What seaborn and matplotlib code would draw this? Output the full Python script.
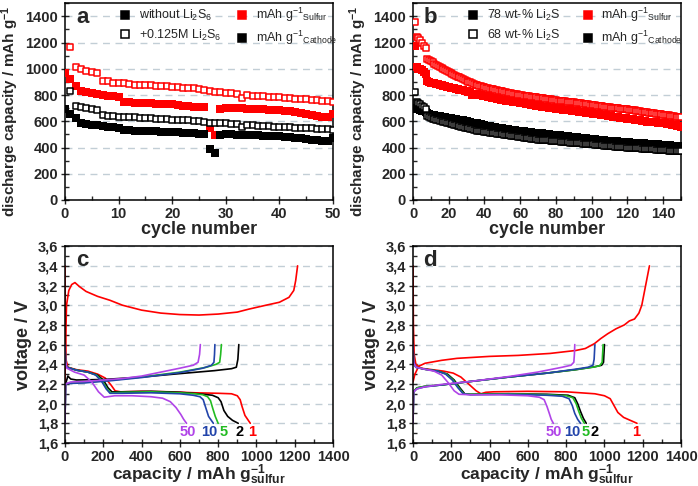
import matplotlib
matplotlib.use('Agg')
import matplotlib.pyplot as plt
import seaborn as sns
import pandas as pd
from matplotlib.lines import Line2D
from matplotlib.ticker import MultipleLocator, AutoMinorLocator, FuncFormatter

sns.set_style('ticks')
plt.rcParams['font.family'] = ['Liberation Sans', 'DejaVu Sans']
plt.rcParams['mathtext.fontset'] = 'custom'
plt.rcParams['mathtext.rm'] = 'Liberation Sans'
plt.rcParams['mathtext.bf'] = 'Liberation Sans:bold'
plt.rcParams['mathtext.it'] = 'Liberation Sans:italic'

# ---- panel a : cycling, without / with Li2S6 ----
cyc_a_without = list(range(0, 51))
a_sulfur_without = [970, 920, 870, 830, 820, 815, 810, 800, 795, 790,
                    785, 745, 745, 742, 740, 740, 738, 735, 732, 730,
                    728, 725, 720, 715, 712, 710, 705, 545, 495, 690,
                    700, 702, 700, 698, 697, 695, 692, 690, 688, 685,
                    682, 680, 675, 670, 665, 655, 645, 640, 635, 630, 655]
a_cathode_without = [690, 655, 625, 590, 580, 575, 570, 565, 560, 555,
                     550, 530, 530, 528, 527, 525, 525, 522, 520, 518,
                     517, 515, 513, 510, 508, 505, 502, 385, 355, 495,
                     500, 500, 498, 497, 495, 493, 492, 490, 488, 486,
                     484, 482, 478, 475, 470, 465, 460, 455, 452, 450, 470]
cyc_a_with = list(range(1, 51))
a_sulfur_with = [1165, 1010, 995, 985, 975, 965, 910, 905, 895, 895,
                 890, 885, 880, 878, 875, 875, 870, 868, 865, 860,
                 858, 855, 853, 850, 845, 835, 830, 825, 820, 815,
                 812, 810, 780, 800, 795, 792, 790, 788, 785, 782,
                 780, 775, 772, 770, 770, 765, 760, 758, 752, 745]
a_cathode_with = [830, 715, 705, 698, 690, 685, 645, 642, 638, 635,
                  633, 632, 630, 628, 625, 623, 620, 618, 615, 612,
                  610, 608, 606, 604, 600, 593, 590, 588, 585, 583,
                  580, 578, 560, 570, 568, 566, 564, 562, 560, 558,
                  556, 553, 551, 549, 548, 546, 544, 542, 539, 535]

# ---- panel b : cycling, 78 / 68 wt-% Li2S ----
cyc_b = list(range(1, 151))
b_sulfur_78 = [1170, 1010, 1000, 995, 990, 975, 960, 905, 900, 895,
               892, 890, 887, 884, 880, 876, 872, 868, 864, 860,
               857, 854, 851, 848, 845, 842, 839, 836, 833, 830,
               826, 822, 800, 805, 808, 806, 803, 800, 796, 792,
               789, 786, 783, 780, 777, 774, 771, 768, 765, 762,
               760, 758, 756, 754, 752, 750, 748, 746, 744, 741,
               738, 736, 734, 731, 729, 726, 723, 721, 718, 716,
               714, 712, 710, 708, 706, 704, 702, 700, 698, 696,
               694, 692, 691, 689, 687, 686, 684, 683, 681, 680,
               678, 676, 674, 672, 670, 668, 666, 664, 662, 660,
               658, 656, 654, 652, 650, 648, 646, 644, 642, 640,
               638, 636, 634, 632, 630, 628, 626, 624, 622, 620,
               618, 616, 614, 612, 610, 608, 606, 604, 602, 600,
               598, 597, 595, 594, 592, 591, 589, 588, 586, 585,
               583, 581, 579, 577, 575, 573, 570, 567, 564, 560]
b_cathode_78 = [700, 695, 690, 685, 680, 676, 672, 660, 655, 650,
                648, 645, 642, 640, 637, 635, 632, 630, 628, 625,
                623, 620, 618, 615, 613, 611, 608, 606, 603, 600,
                597, 594, 580, 585, 587, 584, 581, 578, 574, 570,
                567, 565, 562, 560, 557, 555, 552, 550, 547, 545,
                543, 541, 539, 537, 535, 533, 531, 529, 527, 525,
                523, 522, 520, 519, 517, 516, 514, 513, 511, 510,
                508, 507, 505, 504, 502, 501, 499, 498, 496, 495,
                493, 492, 490, 489, 487, 486, 484, 483, 481, 480,
                478, 477, 475, 474, 472, 471, 469, 468, 466, 465,
                463, 462, 460, 459, 457, 456, 454, 453, 451, 450,
                449, 448, 447, 446, 445, 444, 443, 442, 441, 440,
                439, 438, 437, 436, 435, 434, 433, 432, 431, 430,
                429, 428, 427, 426, 425, 424, 423, 422, 421, 420,
                419, 418, 417, 416, 415, 414, 413, 412, 411, 410]
b_sulfur_68 = [1360, 1240, 1235, 1220, 1200, 1170, 1160, 1075, 1068, 1060,
               1050, 1040, 1030, 1022, 1012, 1005, 998, 990, 982, 975,
               968, 960, 952, 946, 940, 934, 928, 920, 914, 908,
               902, 896, 890, 884, 878, 874, 870, 866, 862, 858,
               855, 852, 849, 846, 843, 840, 837, 834, 831, 828,
               825, 822, 819, 816, 813, 810, 808, 805, 802, 800,
               798, 796, 794, 792, 790, 788, 786, 784, 782, 780,
               778, 776, 774, 772, 770, 768, 766, 764, 762, 760,
               758, 756, 755, 753, 752, 750, 749, 747, 746, 744,
               742, 740, 739, 737, 735, 733, 731, 729, 727, 725,
               723, 721, 719, 718, 716, 714, 712, 710, 708, 706,
               704, 703, 701, 700, 698, 697, 695, 694, 692, 690,
               688, 686, 684, 682, 680, 678, 676, 674, 672, 670,
               668, 666, 664, 662, 660, 658, 656, 654, 652, 650,
               648, 646, 644, 642, 640, 638, 636, 634, 632, 630]
b_cathode_68 = [820, 745, 740, 735, 720, 705, 695, 640, 632, 625,
                620, 615, 611, 607, 603, 599, 595, 591, 587, 583,
                580, 577, 574, 570, 567, 563, 560, 556, 552, 548,
                545, 542, 538, 534, 531, 528, 526, 524, 522, 520,
                518, 516, 514, 512, 510, 508, 506, 504, 502, 500,
                498, 496, 494, 492, 490, 488, 486, 484, 482, 480,
                478, 476, 474, 472, 470, 468, 466, 464, 462, 460,
                459, 458, 457, 456, 455, 454, 453, 452, 451, 450,
                448, 447, 445, 444, 442, 441, 439, 438, 436, 435,
                434, 433, 432, 431, 430, 429, 428, 427, 426, 425,
                423, 422, 420, 419, 417, 416, 414, 413, 411, 410,
                409, 408, 407, 406, 405, 404, 403, 402, 401, 400,
                399, 398, 397, 396, 395, 394, 393, 392, 391, 390,
                389, 388, 387, 386, 385, 384, 383, 382, 381, 380,
                379, 378, 377, 376, 375, 374, 373, 372, 371, 370]

# ---- panel c : voltage profiles (capacity mAh/g, voltage V) ----
c_dis_1 = [(0, 3.4), (2, 2.8), (5, 2.45), (15, 2.37), (60, 2.345), (120, 2.33),
           (170, 2.30), (210, 2.26), (240, 2.19), (262, 2.13), (290, 2.12),
           (400, 2.125), (550, 2.12), (680, 2.11), (800, 2.105), (870, 2.1),
           (900, 2.08), (915, 2.04), (925, 1.97), (940, 1.88), (968, 1.8)]
c_chg_1 = [(0, 2.2), (3, 2.6), (8, 3.0), (20, 3.15), (35, 3.21), (52, 3.23),
           (75, 3.19), (110, 3.14), (170, 3.09), (235, 3.05), (300, 3.0),
           (400, 2.95), (500, 2.92), (600, 2.905), (700, 2.90), (800, 2.91),
           (900, 2.93), (960, 2.96), (1050, 3.0), (1120, 3.03), (1170, 3.08),
           (1195, 3.15), (1205, 3.25), (1215, 3.4)]
c_dis_2 = [(0, 2.6), (3, 2.42), (10, 2.37), (60, 2.34), (120, 2.32), (170, 2.29),
           (200, 2.24), (225, 2.16), (245, 2.12), (300, 2.12), (450, 2.125),
           (600, 2.115), (700, 2.10), (770, 2.085), (800, 2.06), (815, 2.02),
           (830, 1.93), (850, 1.87), (875, 1.83), (905, 1.8)]
c_chg_2 = [(0, 1.8), (3, 2.2), (15, 2.28), (30, 2.25), (60, 2.24), (200, 2.245),
           (400, 2.27), (600, 2.305), (780, 2.335), (870, 2.355), (895, 2.37),
           (903, 2.45), (908, 2.6)]
c_dis_5 = [(0, 2.6), (3, 2.42), (10, 2.37), (60, 2.34), (120, 2.32), (165, 2.29),
           (195, 2.23), (220, 2.15), (240, 2.11), (300, 2.115), (450, 2.12),
           (600, 2.11), (680, 2.1), (720, 2.09), (745, 2.07), (760, 2.03),
           (772, 1.95), (785, 1.87), (800, 1.8)]
c_chg_5 = [(0, 1.8), (3, 2.2), (20, 2.21), (100, 2.215), (250, 2.24), (400, 2.27),
           (600, 2.32), (740, 2.37), (790, 2.40), (808, 2.42), (813, 2.5), (817, 2.6)]
c_dis_10 = [(0, 2.6), (3, 2.42), (10, 2.37), (60, 2.34), (120, 2.32), (160, 2.29),
            (190, 2.23), (215, 2.15), (235, 2.105), (300, 2.105), (450, 2.11),
            (600, 2.10), (670, 2.085), (705, 2.07), (722, 2.04), (735, 1.96),
            (750, 1.87), (775, 1.8)]
c_chg_10 = [(0, 1.8), (3, 2.2), (20, 2.205), (100, 2.21), (250, 2.235), (400, 2.265),
            (600, 2.315), (720, 2.36), (765, 2.39), (778, 2.42), (781, 2.5), (783, 2.6)]
c_dis_50 = [(0, 2.6), (3, 2.42), (10, 2.36), (50, 2.32), (100, 2.29), (140, 2.22),
            (175, 2.12), (205, 2.065), (260, 2.08), (350, 2.08), (450, 2.07),
            (510, 2.055), (550, 2.02), (580, 1.96), (605, 1.89), (620, 1.84), (635, 1.8)]
c_chg_50 = [(0, 1.8), (3, 2.2), (30, 2.22), (100, 2.225), (200, 2.24), (300, 2.255),
            (400, 2.28), (500, 2.32), (600, 2.36), (670, 2.39), (695, 2.42),
            (703, 2.5), (707, 2.6)]

# ---- panel d : voltage profiles ----
d_dis_1 = [(0, 3.4), (2, 2.8), (6, 2.5), (15, 2.4), (40, 2.36), (100, 2.345),
           (160, 2.33), (210, 2.31), (250, 2.27), (290, 2.2), (330, 2.13),
           (355, 2.1), (380, 2.115), (420, 2.12), (600, 2.125), (800, 2.12),
           (950, 2.1), (1000, 2.08), (1030, 2.05), (1050, 1.98), (1070, 1.91),
           (1100, 1.86), (1170, 1.8)]
d_chg_1 = [(0, 2.22), (10, 2.3), (30, 2.38), (63, 2.41), (150, 2.44), (230, 2.46),
           (400, 2.48), (550, 2.49), (716, 2.51), (850, 2.54), (900, 2.56),
           (948, 2.61), (980, 2.66), (1017, 2.71), (1060, 2.76), (1104, 2.8),
           (1130, 2.84), (1157, 2.86), (1180, 2.92), (1195, 3.0), (1210, 3.15),
           (1225, 3.3), (1235, 3.4)]
d_dis_2 = [(0, 2.6), (3, 2.42), (15, 2.37), (60, 2.35), (130, 2.33), (180, 2.3),
           (215, 2.24), (245, 2.16), (270, 2.1), (300, 2.095), (500, 2.1),
           (700, 2.095), (810, 2.085), (845, 2.06), (860, 2.0), (875, 1.92),
           (890, 1.85), (905, 1.8)]
d_chg_2 = [(0, 1.8), (3, 2.12), (20, 2.16), (60, 2.175), (150, 2.19), (300, 2.225),
           (500, 2.27), (700, 2.31), (850, 2.345), (950, 2.375), (985, 2.39),
           (995, 2.42), (1000, 2.6)]
d_dis_5 = [(0, 2.6), (3, 2.42), (15, 2.37), (60, 2.35), (130, 2.33), (175, 2.3),
           (210, 2.24), (240, 2.16), (265, 2.1), (300, 2.095), (500, 2.1),
           (700, 2.09), (800, 2.08), (835, 2.06), (852, 2.0), (866, 1.92),
           (880, 1.85), (895, 1.8)]
d_chg_5 = [(0, 1.8), (3, 2.12), (20, 2.16), (60, 2.175), (150, 2.19), (300, 2.225),
           (500, 2.27), (700, 2.31), (850, 2.345), (940, 2.37), (975, 2.385),
           (988, 2.42), (993, 2.6)]
d_dis_10 = [(0, 2.6), (3, 2.42), (15, 2.37), (60, 2.35), (130, 2.33), (170, 2.3),
            (205, 2.24), (235, 2.16), (262, 2.1), (300, 2.09), (500, 2.095),
            (700, 2.085), (780, 2.075), (815, 2.05), (832, 1.98), (845, 1.9),
            (860, 1.84), (875, 1.8)]
d_chg_10 = [(0, 1.8), (3, 2.12), (20, 2.15), (60, 2.17), (150, 2.19), (300, 2.225),
            (500, 2.27), (700, 2.31), (850, 2.35), (915, 2.37), (940, 2.39),
            (946, 2.45), (950, 2.6)]
d_dis_50 = [(0, 2.6), (3, 2.42), (15, 2.37), (60, 2.35), (110, 2.33), (150, 2.29),
            (185, 2.21), (215, 2.13), (240, 2.095), (300, 2.09), (450, 2.09),
            (600, 2.08), (660, 2.065), (685, 2.04), (700, 1.97), (712, 1.9),
            (722, 1.84), (733, 1.8)]
d_chg_50 = [(0, 1.8), (3, 2.12), (20, 2.15), (60, 2.17), (150, 2.195), (300, 2.225),
            (500, 2.275), (650, 2.32), (780, 2.37), (825, 2.39), (840, 2.42),
            (843, 2.5), (845, 2.6)]

cycle_names = ['1', '2', '5', '10', '50']
cycle_colors = ['#ff0000', '#000000', '#22bb22', '#2244aa', '#b044e8']
c_curves = [(c_dis_1, c_chg_1), (c_dis_2, c_chg_2), (c_dis_5, c_chg_5),
            (c_dis_10, c_chg_10), (c_dis_50, c_chg_50)]
d_curves = [(d_dis_1, d_chg_1), (d_dis_2, d_chg_2), (d_dis_5, d_chg_5),
            (d_dis_10, d_chg_10), (d_dis_50, d_chg_50)]
# label anchor capacities along the 1.71 V line
c_label_x = [975, 912, 830, 755, 640]
d_label_x = [1165, 948, 902, 830, 735]

GRID = '#c2ced6'

fig = plt.figure(figsize=(6.98, 4.86), dpi=100)
ax_a = fig.add_axes([0.0931, 0.5885, 0.384, 0.405])
ax_b = fig.add_axes([0.5917, 0.5885, 0.384, 0.405])
ax_c = fig.add_axes([0.0931, 0.0885, 0.384, 0.405])
ax_d = fig.add_axes([0.5917, 0.0885, 0.384, 0.405])


def style_axes(ax, letter):
    for sp in ax.spines.values():
        sp.set_visible(True)
        sp.set_linewidth(1.1)
        sp.set_color('black')
    ax.yaxis.grid(True, linestyle=(0, (5, 4)), color=GRID, lw=1)
    ax.set_axisbelow(True)
    ax.xaxis.set_minor_locator(AutoMinorLocator(2))
    ax.yaxis.set_minor_locator(AutoMinorLocator(2))
    ax.tick_params(which='major', direction='inout', length=6, width=1,
                   labelsize=10.5, pad=2, top=False, right=False)
    ax.tick_params(which='minor', direction='in', length=3, width=1,
                   top=False, right=False)
    for t in ax.get_xticklabels() + ax.get_yticklabels():
        t.set_fontweight('bold')
    ax.text(0.065, 0.925, letter, transform=ax.transAxes, fontsize=16,
            fontweight='bold', ha='center', va='center')


def squares(ax, x, y, color, filled):
    if filled:
        sns.scatterplot(x=x, y=y, ax=ax, marker='s', s=28, color=color,
                        edgecolor=color, linewidth=0, zorder=3)
    else:
        sns.scatterplot(x=x, y=y, ax=ax, marker='s', s=24, color='white',
                        edgecolor=color, linewidth=1.1, zorder=3)


def curve(ax, pts, color):
    df = pd.DataFrame(pts, columns=['cap', 'V'])
    sns.lineplot(data=df, x='cap', y='V', ax=ax, sort=False, estimator=None,
                 color=color, lw=1.2)


# panel a
squares(ax_a, cyc_a_without, a_sulfur_without, 'red', True)
squares(ax_a, cyc_a_with, a_sulfur_with, 'red', False)
squares(ax_a, cyc_a_without, a_cathode_without, 'black', True)
squares(ax_a, cyc_a_with, a_cathode_with, 'black', False)

# panel b
squares(ax_b, cyc_b, b_sulfur_78, 'red', True)
squares(ax_b, cyc_b, b_sulfur_68, 'red', False)
squares(ax_b, cyc_b, b_cathode_78, 'black', True)
squares(ax_b, cyc_b, b_cathode_68, 'black', False)

for ax, xmax, xmaj in [(ax_a, 50, 10), (ax_b, 150, 20)]:
    ax.set_xlim(0, xmax)
    ax.set_ylim(0, 1500)
    ax.xaxis.set_major_locator(MultipleLocator(xmaj))
    ax.set_yticks([0, 200, 400, 600, 800, 1000, 1200, 1400])
    ax.set_xlabel('cycle number', fontsize=13, fontweight='bold', labelpad=0)
    ax.set_ylabel(r'discharge capacity / mAh g$^{\mathbf{-1}}$', fontsize=11,
                  fontweight='bold')
    ax.yaxis.set_label_coords(-0.165, 0.45)

style_axes(ax_a, 'a')
style_axes(ax_b, 'b')


def mk(color, filled):
    return Line2D([], [], marker='s', ls='none', markersize=6,
                  markerfacecolor=color if filled else 'white',
                  markeredgecolor=color, markeredgewidth=1.1)


h_a = [mk('black', True), mk('black', False), mk('red', True), mk('black', True)]
l_a = [r'without Li$_\mathrm{2}$S$_\mathrm{6}$', r'+0.125M Li$_\mathrm{2}$S$_\mathrm{6}$',
       r'mAh g$^\mathrm{-1}$$_\mathrm{Sulfur}$', r'mAh g$^\mathrm{-1}$$_\mathrm{Cathode}$']
ax_a.legend(h_a, l_a, ncol=2, loc='upper left', bbox_to_anchor=(0.2, 0.985),
            frameon=False, fontsize=9, handlelength=1.0, handletextpad=0.6,
            labelspacing=0.35, columnspacing=1.2, borderpad=0, borderaxespad=0)
l_b = [r'78 wt-% Li$_\mathrm{2}$S', r'68 wt-% Li$_\mathrm{2}$S',
       r'mAh g$^\mathrm{-1}$$_\mathrm{Sulfur}$', r'mAh g$^\mathrm{-1}$$_\mathrm{Cathode}$']
ax_b.legend(h_a, l_b, ncol=2, loc='upper left', bbox_to_anchor=(0.2, 0.985),
            frameon=False, fontsize=9, handlelength=1.0, handletextpad=0.6,
            labelspacing=0.35, columnspacing=1.7, borderpad=0, borderaxespad=0)

# panels c, d
for ax, curves, lab_x, letter in [(ax_c, c_curves, c_label_x, 'c'),
                                  (ax_d, d_curves, d_label_x, 'd')]:
    for (dis, chg), col in zip(curves, cycle_colors):
        curve(ax, dis, col)
        curve(ax, chg, col)
    for name, col, lx in zip(cycle_names, cycle_colors, lab_x):
        ax.text(lx, 1.71, name, color=col, fontsize=10.5, fontweight='bold',
                ha='center', va='center')
    ax.set_xlim(0, 1400)
    ax.set_ylim(1.6, 3.6)
    ax.xaxis.set_major_locator(MultipleLocator(200))
    ax.yaxis.set_major_locator(MultipleLocator(0.2))
    ax.yaxis.set_major_formatter(FuncFormatter(lambda v, p: f'{v:.1f}'.replace('.', ',')))
    ax.set_xlabel(r'capacity / mAh g$^{\mathbf{-1}}_{\mathbf{sulfur}}$', fontsize=12.5,
                  fontweight='bold', labelpad=-1)
    ax.set_ylabel('voltage / V', fontsize=13, fontweight='bold', labelpad=4)
    style_axes(ax, letter)

fig.savefig('out.png', dpi=100)
